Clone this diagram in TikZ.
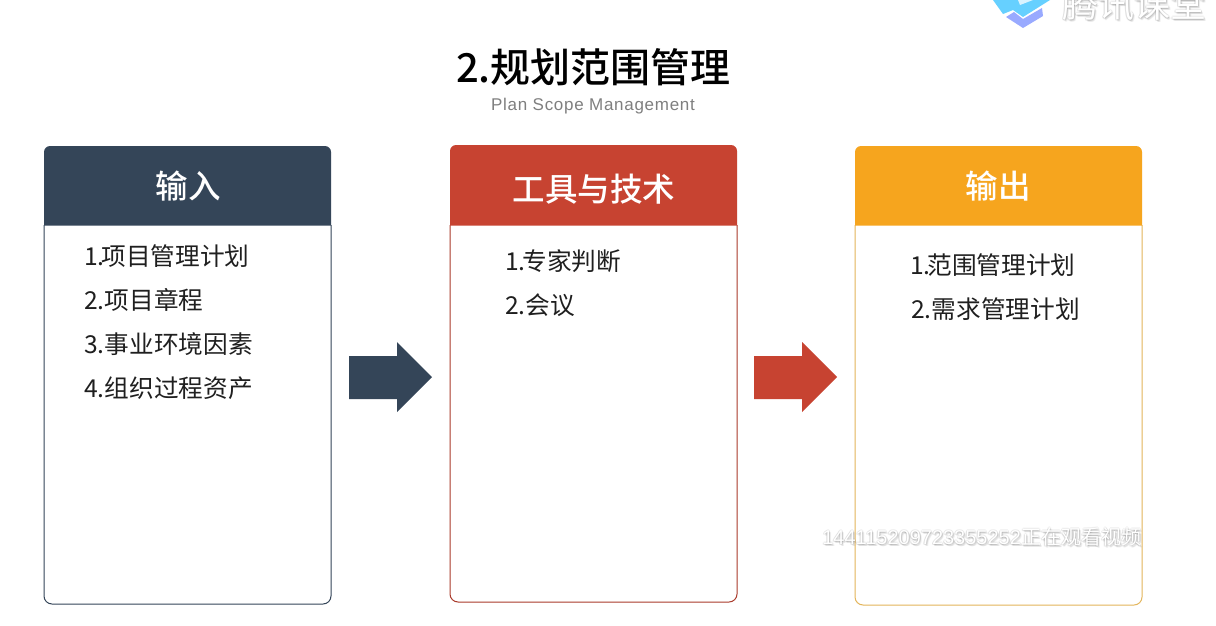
\documentclass[tikz,border=0pt]{standalone}
\usepackage{fontspec}
\setmainfont{Noto Sans CJK SC}
\newfontfamily\latinfont[LetterSpace=4.2]{Liberation Sans}
\newfontfamily\plainlatin{Liberation Sans}
\newfontfamily\cjkbold{Noto Sans CJK SC Medium}
\definecolor{navy}{HTML}{344558}
\definecolor{brick}{HTML}{C74331}
\definecolor{amber}{HTML}{F6A51E}
\definecolor{amberline}{HTML}{E3B55A}
\definecolor{subgray}{HTML}{7F7F7F}
\definecolor{logoblue}{HTML}{66D0FF}
\definecolor{logolilac}{HTML}{99AAFF}
\tikzset{
  x=0.75pt,y=-0.75pt,
  itemtext/.style={anchor=west,inner sep=0pt,text=black!88,font=\fontsize{18.5}{18.5}\selectfont},
  headtext/.style={anchor=center,inner sep=0pt,text=white,font=\cjkbold\fontsize{24.4}{24.4}\selectfont},
  cardline/.style={line width=0.75pt,rounded corners=6pt},
  wmshadow/.style={inner sep=0pt,text=black,opacity=0.06},
}
\newcommand{\wmtext}[4]{% x, y, font, text
  \foreach \dx/\dy in {-1/0,1/0,0/-1,0/1,1/1,2/2,-1/1,1/2}{
    \node[wmshadow,anchor=west,font=#3] at (#1+\dx,#2+\dy) {#4};
  }
  \node[inner sep=0pt,text=white,anchor=west,font=#3] at (#1,#2) {#4};
}
\newcommand{\headshape}[4]{% colour, left, right, top
  \fill[#1] (#2,225.5) -- (#2,#4+6) arc[start angle=180,end angle=270,radius=6] -- (#3-6,#4) arc[start angle=270,end angle=360,radius=6] -- (#3,225.5) -- cycle;
}
\begin{document}
\begin{tikzpicture}
\useasboundingbox (0,0) rectangle (1216,625);
\fill[white] (0,0) rectangle (1216,625);
% cards
\draw[cardline,navy] (44,225) -- (44,604) -- (331,604) -- (331,225);
\headshape{navy}{44}{331}{146}
\node[headtext] (inhead) at (188,186) {输入};
\draw[cardline,brick!85!black] (450,225) -- (450,602) -- (737,602) -- (737,225);
\headshape{brick}{450}{737}{145}
\node[headtext] (toolhead) at (594,189) {工具与技术};
\draw[cardline,amberline] (855,225) -- (855,605) -- (1142,605) -- (1142,225);
\headshape{amber}{855}{1142}{146}
\node[headtext] (outhead) at (998,186) {输出};
% title
\node[inner sep=0pt,text=black,font=\cjkbold\fontsize{30}{30}\selectfont] (title) at (593.5,67) {2.规划范围管理};
\node[inner sep=0pt,text=subgray,font=\latinfont\fontsize{12.75}{13}\selectfont] (subtitle) at (593,106) {Plan Scope Management};
% items
\node[itemtext] (i1) at (84,256) {1.\kern-2.5pt 项目管理计划};
\node[itemtext] (i2) at (84,300) {2.项目章程};
\node[itemtext] (i3) at (84,344) {3.事业环境因素};
\node[itemtext] (i4) at (84,388) {4.组织过程资产};
\node[itemtext] (t1) at (505,261) {1.\kern-2.5pt 专家判断};
\node[itemtext] (t2) at (505,305) {2.会议};
\node[itemtext] (o1) at (910,265) {1.\kern-2.5pt 范围管理计划};
\node[itemtext] (o2) at (911,309) {2.需求管理计划};
% arrows
\fill[navy] (349,356) -- (397,356) -- (397,342) -- (432,377) -- (397,412) -- (397,399) -- (349,399) -- cycle;
\fill[brick] (754,356) -- (802,356) -- (802,342) -- (837,377) -- (802,412) -- (802,399) -- (754,399) -- cycle;
% video watermark
\begin{scope}
\clip (0,0) rectangle (1216,625);
\fill[logoblue] (993,0) -- (1003,14) -- (1013,10) -- (1023,17) -- (1050,0) -- cycle;
\fill[white!75!logoblue] (1018,0) -- (1020,5) -- (1033,0) -- cycle;
\fill[logolilac] (1006,17) -- (1014,12) -- (1023,19) -- (1042,8) -- (1043,16) -- (1023,28) -- cycle;
\wmtext{1062}{4}{\fontsize{27}{27}\selectfont}{腾讯课堂}
\end{scope}
\wmtext{822}{537}{\fontsize{15}{15}\selectfont}{{\plainlatin 144115209723355252}正在观看视频}
\end{tikzpicture}
\end{document}
